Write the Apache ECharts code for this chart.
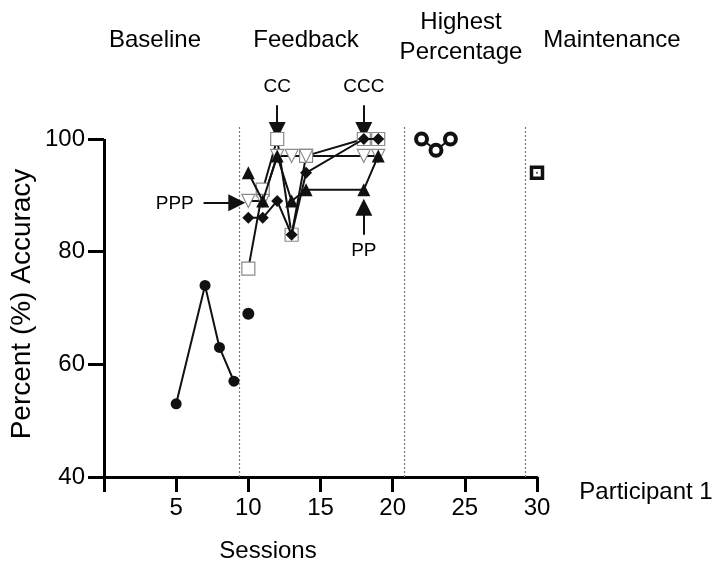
<!DOCTYPE html>
<html>
<head>
<meta charset="utf-8">
<script src="https://cdn.jsdelivr.net/npm/echarts@6/dist/echarts.min.js"></script>
<style>
  html, body { margin: 0; padding: 0; background: #ffffff; }
  #chart { width: 726px; height: 581px; }
</style>
</head>
<body>
<div id="chart"></div>
<script>
// Session-by-session accuracy (%) for Participant 1
const baseline = [[5, 53], [7, 74], [8, 63], [9, 57]];
const baselineCarry = [[10, 69]];
const openSquare = [[10, 77], [11, 91], [12, 100], [13, 83], [14, 97], [18, 100], [19, 100]];
const filledDiamond = [[10, 86], [11, 86], [12, 89], [13, 83], [14, 94], [18, 100], [19, 100]];
const openTriDown = [[10, 89], [11, 89], [12, 97], [13, 97], [14, 97], [18, 97], [19, 97]];
const filledTriUp = [[10, 94], [11, 89], [12, 97], [13, 89], [14, 91], [18, 91], [19, 97]];
const highest = [[22, 100], [23, 98], [24, 100]];
const maintenance = [[30, 94]];

// Phase change lines (session position)
const phaseDividers = [9.35, 20.8, 29.2];

// Tick values
const xTickValues = [0, 5, 10, 15, 20, 25, 30];
const yTickValues = [40, 60, 80, 100];

// Prompt annotations: text, arrow start, arrow end, text anchor
const annotations = [
  { text: 'CC',  from: [12, 106.0], to: [12, 101.5], at: [12, 109.2] },
  { text: 'CCC', from: [18, 106.0], to: [18, 101.5], at: [18, 109.2] },
  { text: 'PPP', from: [6.9, 88.7], to: [9.2, 88.7], at: [4.9, 88.5] },
  { text: 'PP',  from: [18, 83.0],  to: [18, 87.9],  at: [18, 80.2] }
];

const Y_MIN = 40, Y_MAX = 112;
const FONT = '"Liberation Sans", Arial, Helvetica, sans-serif';
const INK = '#111111';

const chart = echarts.init(document.getElementById('chart'), null, { renderer: 'canvas' });

// plot area: y 100 at 139px, y 40 at 477px
const pxPerUnit = (477 - 139) / 60;
const gridTop = 139 - (Y_MAX - 100) * pxPerUnit;

const lineBase = { color: INK, width: 2 };

const markerLines = [];
phaseDividers.forEach(function (x) {
  markerLines.push([
    { coord: [x, 40], lineStyle: { type: [2, 2], color: '#7a7a7a', width: 1.2 } },
    { coord: [x, 102.2] }
  ]);
});
// visible y axis line stops at 100
markerLines.push([
  { coord: [0, 40], lineStyle: { type: 'solid', color: '#000', width: 3 } },
  { coord: [0, 100] }
]);

const arrowLines = annotations.map(function (a) {
  return [{ coord: a.from }, { coord: a.to }];
});
const annotationPoints = annotations.map(function (a) {
  return { name: a.text, coord: a.at };
});

function label(text, x, y, size) {
  return {
    type: 'text', silent: true,
    style: { text: text, x: x, y: y, align: 'center', verticalAlign: 'middle', lineHeight: 30, font: size + 'px ' + FONT, fill: '#000' }
  };
}

const option = {
  backgroundColor: '#ffffff',
  animation: false,
  grid: { left: 104, right: 189, top: gridTop, bottom: 104, containLabel: false },
  xAxis: {
    type: 'value',
    min: 0,
    max: 30,
    interval: 5,
    splitLine: { show: false },
    axisLine: { show: true, onZero: false, lineStyle: { color: '#000', width: 3 } },
    axisTick: { show: true, inside: false, length: 15, lineStyle: { color: '#000', width: 3 }, customValues: xTickValues },
    axisLabel: {
      margin: 19, color: '#000', fontSize: 24, fontFamily: FONT,
      customValues: xTickValues.filter(function (v) { return v > 0; })
    }
  },
  yAxis: {
    type: 'value',
    min: Y_MIN,
    max: Y_MAX,
    interval: 20,
    splitLine: { show: false },
    axisLine: { show: false },
    axisTick: { show: true, inside: false, length: 16, lineStyle: { color: '#000', width: 3 }, customValues: yTickValues },
    axisLabel: { margin: 19, color: '#000', fontSize: 24, fontFamily: FONT, customValues: yTickValues }
  },
  graphic: [
    label('Baseline', 155, 40, 24),
    label('Feedback', 306, 40, 24),
    label('Highest\nPercentage', 461, 37, 24),
    label('Maintenance', 612, 40, 24),
    label('Participant 1', 646, 492, 24),
    label('Sessions', 268, 551, 24),
    {
      type: 'text', silent: true, x: 22, y: 304, rotation: Math.PI / 2,
      style: { text: 'Percent (%) Accuracy', x: 0, y: 0, align: 'center', verticalAlign: 'middle', font: '28px ' + FONT, fill: '#000' }
    }
  ],
  series: [
    {
      name: 'Baseline',
      type: 'line',
      data: baseline,
      symbol: 'circle',
      symbolSize: 11,
      itemStyle: { color: INK },
      lineStyle: lineBase,
      z: 5,
      markLine: {
        silent: true,
        symbol: ['none', 'none'],
        label: { show: false },
        animation: false,
        data: markerLines
      }
    },
    {
      name: 'Baseline probe',
      type: 'scatter',
      data: baselineCarry,
      symbol: 'circle',
      symbolSize: 12,
      itemStyle: { color: INK, opacity: 1 },
      z: 5
    },
    {
      name: 'Open square',
      type: 'line',
      data: openSquare,
      symbol: 'rect',
      symbolSize: 13,
      itemStyle: { color: '#ffffff', borderColor: '#8a8a8a', borderWidth: 1.2 },
      lineStyle: lineBase,
      z: 6
    },
    {
      name: 'Open triangle',
      type: 'line',
      data: openTriDown,
      symbol: 'triangle',
      symbolRotate: 180,
      symbolSize: 13,
      itemStyle: { color: '#ffffff', borderColor: '#8a8a8a', borderWidth: 1.2 },
      lineStyle: lineBase,
      z: 6
    },
    {
      name: 'Filled triangle',
      type: 'line',
      data: filledTriUp,
      symbol: 'triangle',
      symbolSize: 13,
      itemStyle: { color: INK },
      lineStyle: lineBase,
      z: 7
    },
    {
      name: 'Filled diamond',
      type: 'line',
      data: filledDiamond,
      symbol: 'diamond',
      symbolSize: 12,
      itemStyle: { color: INK },
      lineStyle: lineBase,
      z: 8
    },
    {
      name: 'Highest percentage',
      type: 'line',
      data: highest,
      symbol: 'circle',
      symbolSize: 11,
      itemStyle: { color: '#ffffff', borderColor: INK, borderWidth: 4 },
      lineStyle: lineBase,
      z: 6
    },
    {
      name: 'Maintenance',
      type: 'scatter',
      data: maintenance,
      symbol: 'rect',
      symbolSize: 11,
      itemStyle: { color: '#ffffff', borderColor: INK, borderWidth: 3.5, opacity: 1 },
      z: 6
    },
    {
      name: 'Maintenance centre',
      type: 'scatter',
      data: maintenance,
      symbol: 'rect',
      symbolSize: 2,
      itemStyle: { color: '#666666', opacity: 1 },
      z: 7
    },
    {
      name: 'Prompts',
      type: 'scatter',
      data: [],
      z: 9,
      markLine: {
        silent: true,
        symbol: ['none', 'triangle'],
        symbolSize: 17,
        label: { show: false },
        itemStyle: { color: INK },
        lineStyle: { type: 'solid', color: INK, width: 2 },
        animation: false,
        data: arrowLines
      },
      markPoint: {
        silent: true,
        symbol: 'circle',
        symbolSize: 1,
        itemStyle: { color: 'rgba(0,0,0,0)' },
        label: {
          show: true,
          position: 'inside',
          color: '#000',
          fontSize: 19,
          fontFamily: FONT,
          formatter: function (p) { return p.name; }
        },
        animation: false,
        data: annotationPoints
      }
    }
  ]
};

chart.setOption(option);
</script>
</body>
</html>
